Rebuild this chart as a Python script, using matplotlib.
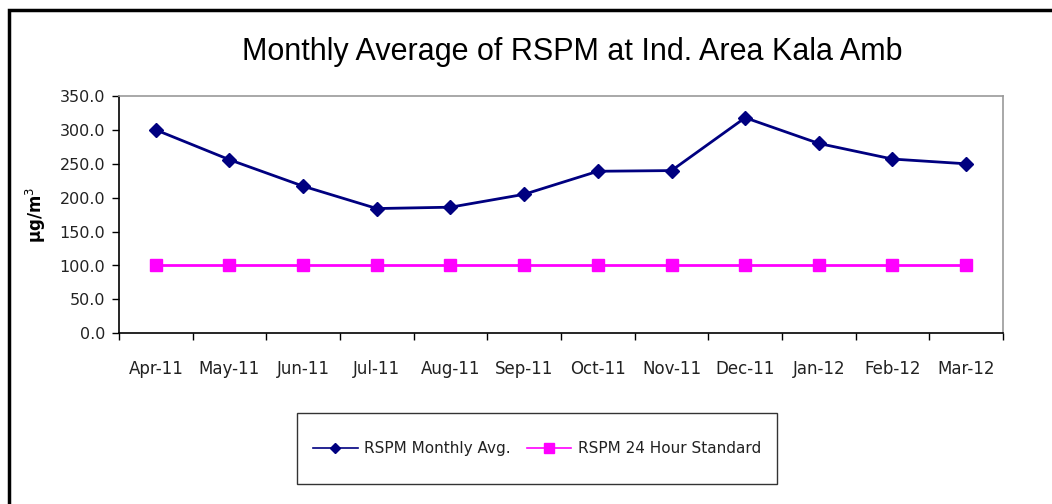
import numpy as np
import matplotlib.pyplot as plt
from matplotlib.patches import Rectangle

plt.rcParams['font.family'] = ['DejaVu Sans']

# Data
months = ['Apr-11', 'May-11', 'Jun-11', 'Jul-11', 'Aug-11', 'Sep-11',
          'Oct-11', 'Nov-11', 'Dec-11', 'Jan-12', 'Feb-12', 'Mar-12']
rspm_avg = [300, 256, 217, 184, 186, 205, 239, 240, 318, 280, 257, 250]
rspm_std = [100] * 12

fig = plt.figure(figsize=(10.52, 5.04), dpi=100)
ax = fig.add_axes([119/1052, 1 - 333.3/504, 884/1052, 237.3/504])

x = np.arange(len(months))
ax.plot(x, rspm_avg, color='#000080', lw=2, marker='D', ms=7,
        label='RSPM Monthly Avg.')
ax.plot(x, rspm_std, color='#FF00FF', lw=2, marker='s', ms=9,
        label='RSPM 24 Hour Standard')

ax.set_xlim(-0.5, len(months) - 0.5)
ax.set_ylim(0, 350)
yt = np.arange(0, 351, 50)
ax.set_yticks(yt)
ax.set_yticklabels([f'{v:.1f}' for v in yt], fontsize=11.5, color='#222222')
ax.set_xticks(x)
ax.set_xticklabels(months, fontsize=12, color='#222222')
ax.set_xticks(np.arange(-0.5, len(months)), minor=True)
ax.tick_params(axis='x', which='major', length=0, pad=19)
ax.tick_params(axis='x', which='minor', length=5, direction='out', width=1)
ax.tick_params(axis='y', length=5, direction='out', width=1, pad=5)

for s in ['left', 'bottom']:
    ax.spines[s].set_color('black')
    ax.spines[s].set_linewidth(1.2)
for s in ['top', 'right']:
    ax.spines[s].set_color('#999999')
    ax.spines[s].set_linewidth(1.2)

ax.set_ylabel('µg/m$^3$', fontsize=12, fontweight='bold', labelpad=8)

fig.text(572/1052, 1 - 52/504, 'Monthly Average of RSPM at Ind. Area Kala Amb',
         ha='center', va='center', fontsize=22, family='Liberation Sans')

# legend entries without frame, box drawn separately
leg = fig.legend(loc='center', bbox_to_anchor=(537/1052, 1 - 448.5/504),
                 ncol=2, fontsize=11, frameon=False, handlelength=2.9,
                 handletextpad=0.4, columnspacing=1.1, borderpad=0,
                 borderaxespad=0)
for t in leg.get_texts():
    t.set_color('#222222')
for h, ms in zip(leg.legend_handles, [5, 6.5]):
    h.set_linewidth(1.2)
    h.set_markersize(ms)

fig.patches.append(Rectangle((297/1052, 1 - 484/504), 480/1052, 71/504,
                             transform=fig.transFigure, fill=False,
                             edgecolor='#333333', lw=1))

# outer chart border
fig.patches.append(Rectangle((8.5/1052, -0.1), 1.2, 1 - 10/504 + 0.1,
                             transform=fig.transFigure, fill=False,
                             edgecolor='black', lw=2.5))

fig.savefig('out.png', dpi=100)
